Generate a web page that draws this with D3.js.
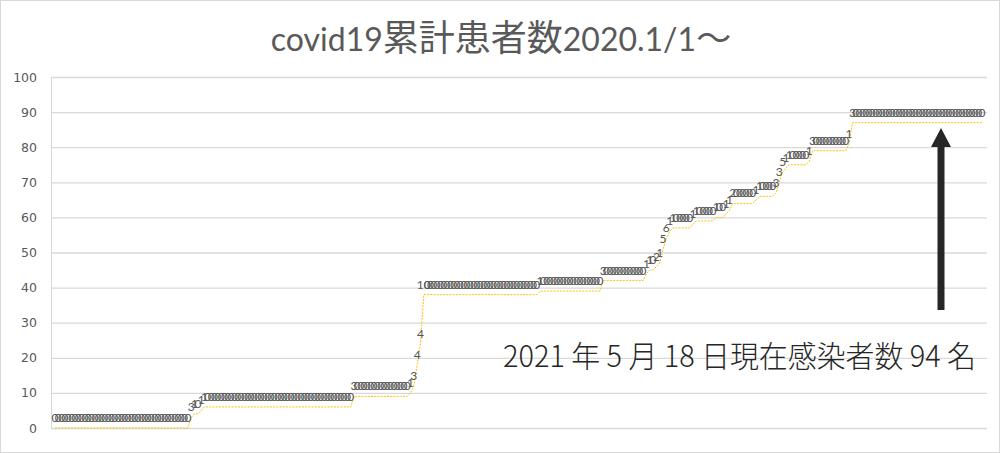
<!DOCTYPE html>
<html>
<head>
<meta charset="utf-8">
<script src="https://cdn.jsdelivr.net/npm/d3@7"></script>
<style>
  html, body { margin: 0; padding: 0; background: #fff; }
  svg { display: block; }
</style>
</head>
<body>
<svg id="chart" width="1000" height="453"></svg>
<script>
// ---- data ----
const titleText = ["covid19", "累計患者数", "2020.1/1", "～"];
const noteText = "2021 年 5 月 18 日現在感染者数 94 名";
const yTicks = [0, 10, 20, 30, 40, 50, 60, 70, 80, 90, 100];

// cumulative patients per data point (yellow line)
const cumulative = [
  0,0,0,0,0,0,0,0,0,0,
  0,0,0,0,0,0,0,0,0,0,
  0,0,0,0,0,0,0,0,0,0,
  0,0,0,0,0,0,0,0,0,0,
  0,3,4,4,5,6,6,6,6,6,
  6,6,6,6,6,6,6,6,6,6,
  6,6,6,6,6,6,6,6,6,6,
  6,6,6,6,6,6,6,6,6,6,
  6,6,6,6,6,6,6,6,6,6,
  9,9,9,9,9,9,9,9,9,9,
  9,9,9,9,9,9,9,10,12,18,
  24,38,38,38,38,38,38,38,38,38,
  38,38,38,38,38,38,38,38,38,38,
  38,38,38,38,38,38,38,38,38,38,
  38,38,38,38,38,38,39,39,39,39,
  39,39,39,39,39,39,39,39,39,39,
  39,39,39,39,39,42,42,42,42,42,
  42,42,42,42,42,42,42,42,44,45,
  45,46,47,51,54,56,57,57,57,57,
  57,57,58,59,59,59,59,59,59,60,
  60,60,61,62,64,64,64,64,64,64,
  64,65,66,66,66,66,66,67,70,73,
  74,75,75,75,75,75,75,76,79,79,
  79,79,79,79,79,79,79,79,79,81,
  87,87,87,87,87,87,87,87,87,87,
  87,87,87,87,87,87,87,87,87,87,
  87,87,87,87,87,87,87,87,87,87,
  87,87,87,87,87,87,87,87,87,87
];

// data labels shown above each point (new patients that day)
const dailyLabels = [
  0,0,0,0,0,0,0,0,0,0,
  0,0,0,0,0,0,0,0,0,0,
  0,0,0,0,0,0,0,0,0,0,
  0,0,0,0,0,0,0,0,0,0,
  0,3,1,0,1,1,0,0,0,0,
  0,0,0,0,0,0,0,0,0,0,
  0,0,0,0,0,0,0,0,0,0,
  0,0,0,0,0,0,0,0,0,0,
  0,0,0,0,0,0,0,0,0,0,
  3,0,0,0,0,0,0,0,0,0,
  0,0,0,0,0,0,0,1,3,4,
  4,10,0,0,0,0,0,0,0,0,
  0,0,0,0,0,0,0,0,0,0,
  0,0,0,0,0,0,0,0,0,0,
  0,0,0,0,0,0,1,0,0,0,
  0,0,0,0,0,0,0,0,0,0,
  0,0,0,0,0,3,0,0,0,0,
  0,0,0,0,0,0,0,0,1,1,
  0,2,1,5,6,1,1,0,0,0,
  0,0,1,1,0,0,0,0,0,1,
  0,0,1,1,2,0,0,0,0,0,
  0,1,1,0,0,0,0,3,3,5,
  1,1,0,0,0,0,0,1,3,0,
  0,0,0,0,0,0,0,0,0,1,
  3,0,0,0,0,0,0,0,0,0,
  0,0,0,0,0,0,0,0,0,0,
  0,0,0,0,0,0,0,0,0,0,
  0,0,0,0,0,0,0,0,0,0
];

// ---- drawing ----
const W = 1000, H = 453;
const plot = { left: 51, right: 987, top: 77, bottom: 428 };
const svg = d3.select("#chart");

svg.append("rect").attr("x", 0.5).attr("y", 0.5).attr("width", W - 1).attr("height", H - 1)
  .attr("fill", "#fff").attr("stroke", "#d9d9d9");

const idx = d3.range(cumulative.length);
const x = d3.scalePoint().domain(idx).range([55, 982]);
const y = d3.scaleLinear().domain([0, 100]).range([plot.bottom, plot.top]);

// y axis with gridlines
const yAxis = d3.axisLeft(y).tickValues(yTicks)
  .tickSize(-(plot.right - plot.left)).tickPadding(14);
const gy = svg.append("g").attr("transform", `translate(${plot.left},0)`).call(yAxis);
gy.select(".domain").attr("stroke", "#d9d9d9");
gy.selectAll(".tick line").attr("stroke", "#d9d9d9").attr("stroke-width", 1.3);
gy.selectAll(".tick text").attr("fill", "#595959")
  .style("font-family", "'DejaVu Sans', sans-serif").style("font-size", "12.5px");

// line
const line = d3.line().x((d, i) => x(i)).y(d => y(d));
svg.append("path").datum(cumulative)
  .attr("d", line).attr("fill", "none")
  .attr("stroke", "#FFC000").attr("stroke-width", 1)
  .attr("stroke-dasharray", "2,1.2");

// data labels
svg.append("g").selectAll("text").data(dailyLabels).join("text")
  .attr("x", (d, i) => x(i))
  .attr("y", (d, i) => y(cumulative[i]) - 6)
  .attr("text-anchor", "middle")
  .attr("fill", "#555")
  .style("font-family", "Lato, 'DejaVu Sans', sans-serif")
  .style("font-size", "12px")
  .text(d => d);

// title
const t = svg.append("text").attr("x", W / 2 + 1).attr("y", 51)
  .attr("text-anchor", "middle").attr("fill", "#595959");
t.append("tspan").style("font-family", "Lato, sans-serif").style("font-size", "32px").text(titleText[0]);
t.append("tspan").style("font-family", "'Noto Sans CJK JP', sans-serif").style("font-size", "36px").text(titleText[1]);
t.append("tspan").style("font-family", "Lato, sans-serif").style("font-size", "32px").text(titleText[2]);
t.append("tspan").style("font-family", "'Noto Sans CJK JP', sans-serif").style("font-size", "35px").text(titleText[3]);

// annotation text
svg.append("text").attr("x", 503).attr("y", 367)
  .attr("textLength", 473).attr("lengthAdjust", "spacingAndGlyphs")
  .attr("fill", "#262626")
  .style("font-family", "'Noto Sans CJK JP', sans-serif").style("font-size", "30px")
  .style("font-weight", 300)
  .text(noteText);

// arrow
const ax = 941, aTop = 128, aBot = 310;
svg.append("path")
  .attr("d", `M${ax},${aTop} L${ax + 10},${aTop + 19} L${ax + 3.5},${aTop + 19} L${ax + 3.5},${aBot} L${ax - 3.5},${aBot} L${ax - 3.5},${aTop + 19} L${ax - 10},${aTop + 19} Z`)
  .attr("fill", "#262626");
</script>
</body>
</html>
